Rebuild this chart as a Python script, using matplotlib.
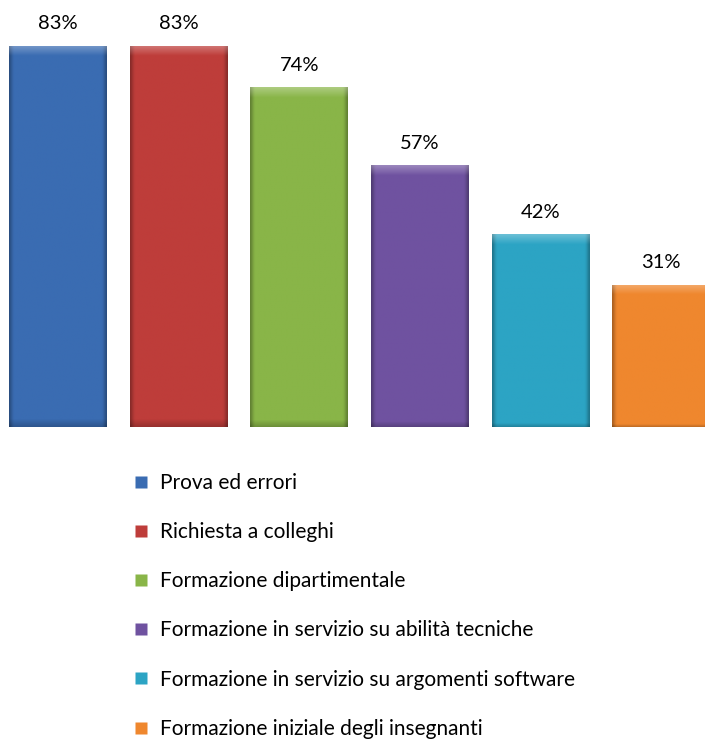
import numpy as np
import matplotlib
matplotlib.use("Agg")
import matplotlib.pyplot as plt
from matplotlib.colors import to_rgb
from matplotlib.lines import Line2D

categories = ["Prova ed errori", "Richiesta a colleghi", "Formazione dipartimentale",
              "Formazione in servizio su abilità tecniche",
              "Formazione in servizio su argomenti software",
              "Formazione iniziale degli insegnanti"]
values = [83, 83, 74, 57, 42, 31]
labels = ["83%", "83%", "74%", "57%", "42%", "31%"]
colors = ["#3A6CB2", "#BE3D3A", "#89B548", "#6F52A0", "#2CA4C4", "#EF872E"]

plt.rcParams['font.family'] = ['Lato', 'DejaVu Sans']

W, H = 705, 744
fig = plt.figure(figsize=(W/100, H/100), dpi=100)
ax = fig.add_axes([0, 1-427/H, 1, 427/H])
x = np.arange(len(values))
bars = ax.bar(x, values, width=0.81, color=colors, edgecolor="none", zorder=2)
ax.set_xlim(-0.481, 5.365)
ax.set_ylim(0, 93)
ax.axis("off")

# gradient / bevel shading clipped to each bar
for b, c in zip(bars, colors):
    rgb = np.array(to_rgb(c))
    x0, y0 = b.get_x(), b.get_y()
    w, h = b.get_width(), b.get_height()
    nx, ny = 60, 300
    u = np.linspace(0, 1, nx)[None, :]
    v = np.linspace(0, 1, ny)[:, None]  # 0 bottom -> 1 top
    shade = np.ones((ny, nx))
    edge = np.clip(np.minimum(u, 1-u) / 0.04, 0, 1)
    shade = shade * (0.72 + 0.28*edge)
    bot = np.clip(v / 0.02, 0, 1)
    shade = shade * (0.8 + 0.2*bot)
    img = np.clip(rgb[None, None, :] * shade[:, :, None], 0, 1)
    top_px = ax.transData.transform((0, h))[1] - ax.transData.transform((0, 0))[1]
    frac = min(10/top_px, 0.5) if top_px > 0 else 0.05
    topmask = np.clip((v - (1-frac)) / frac, 0, 1)
    img = img*(1-0.3*topmask[:, :, None]) + 0.3*topmask[:, :, None]*np.ones(3)
    im = ax.imshow(img, extent=(x0, x0+w, y0, y0+h), origin="lower",
                   aspect="auto", zorder=3, interpolation="bilinear")
    im.set_clip_path(b)

for xi, v, lab in zip(x, values, labels):
    ax.text(xi, v + 4.8, lab, ha="center", va="center", fontsize=14.5, color="#000000")

handles = [Line2D([0], [0], marker="s", linestyle="none", markersize=9,
                  markerfacecolor=c, markeredgecolor="none") for c in colors]
fig.legend(handles, categories, loc="upper left", bbox_to_anchor=(133/W, 1-473/H),
           frameon=False, fontsize=15, handlelength=0.8, handletextpad=0.5,
           labelspacing=1.40, borderaxespad=0, borderpad=0)

fig.savefig("out.png", dpi=100)
